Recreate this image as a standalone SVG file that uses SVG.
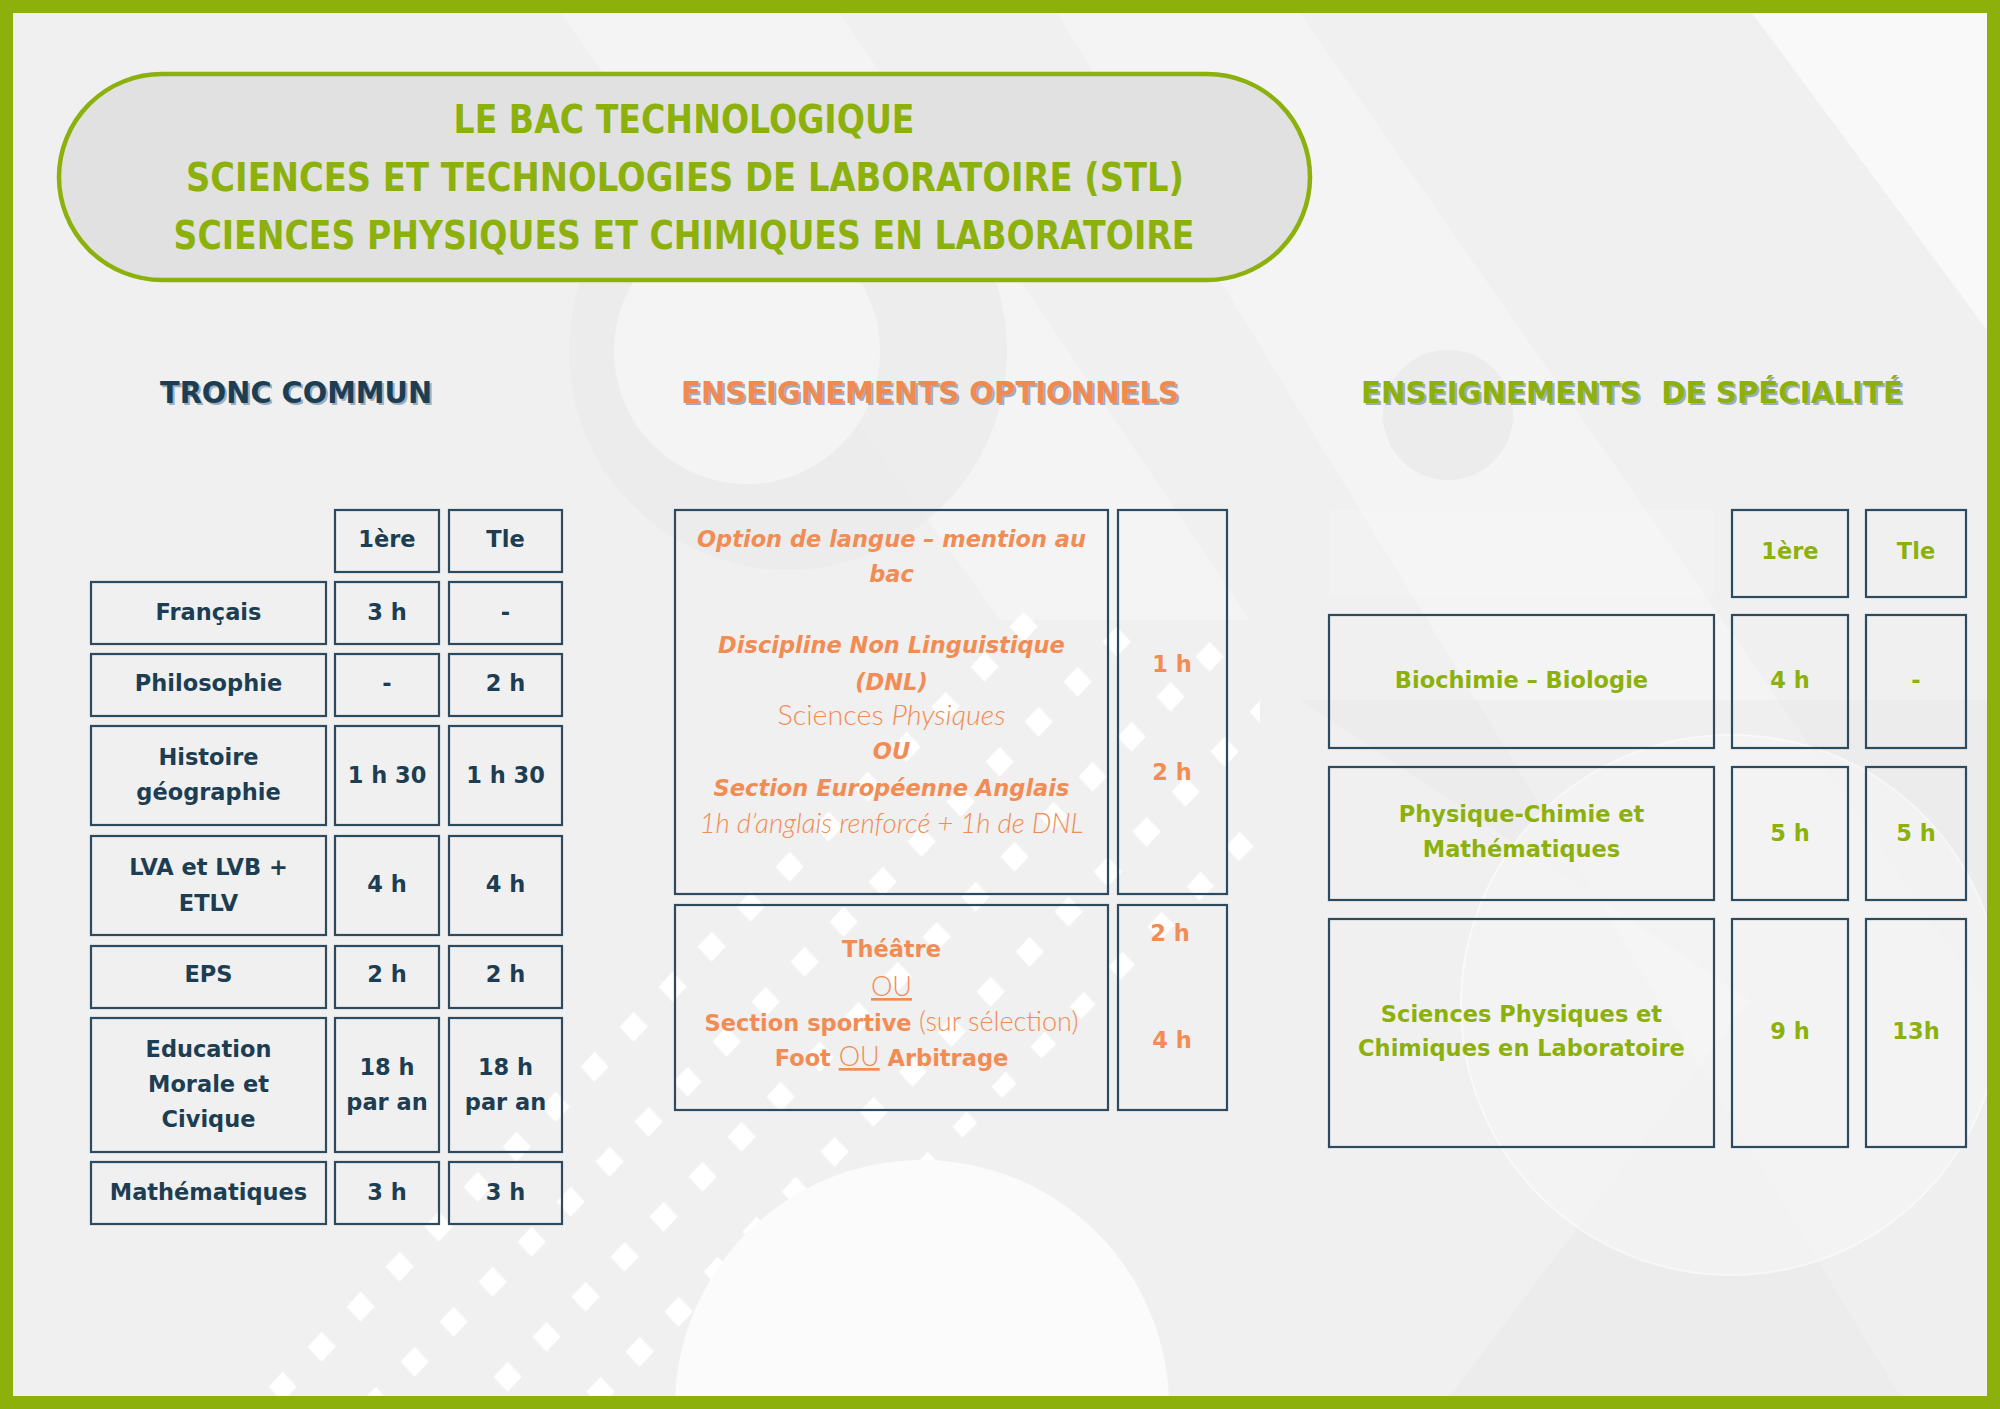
<svg xmlns="http://www.w3.org/2000/svg" width="2000" height="1409" viewBox="0 0 2000 1409">
<defs>
<style>
.cell{fill:none;stroke:#2d4a5e;stroke-width:2.2}
.t{font-family:"DejaVu Sans","Liberation Sans",sans-serif;font-weight:700;font-size:22.5px;text-anchor:middle}
.tc{fill:#1d3e52}
.sp{fill:#8db10c}
.op{fill:#f28c55}
.it{font-style:italic}
.lt{font-family:Lato,"DejaVu Sans",sans-serif;font-weight:300;font-size:27px}
.ul{text-decoration:underline}
.title{font-family:"DejaVu Sans Condensed","DejaVu Sans","Liberation Sans",sans-serif;font-weight:700;font-size:39px;fill:#8db10c;text-anchor:middle}
.head{font-family:"DejaVu Sans","Liberation Sans",sans-serif;font-weight:700;font-size:31px;text-anchor:middle}
.shadow{fill:#9cadbf}
</style>
<pattern id="dia" patternUnits="userSpaceOnUse" width="100" height="100" patternTransform="matrix(0.93 0.15 -0.39 0.40 606.7 999.2)">
<polygon points="36.41,17.6 63.01,45.12 63.59,82.4 36.99,54.88" fill="#ffffff"/>
</pattern>
<clipPath id="diaClip"><polygon points="1028,605 1260,640 1260,840 704,1396 244,1396"/></clipPath>
</defs>

<g id="background">
<rect x="0" y="0" width="2000" height="1409" fill="#f0f0f0"/>
<polygon points="1057,13 1300,13 1987,1000 1987,1396 1900,1396" fill="#ffffff" opacity="0.25"/>
<polygon points="1752,13 1987,13 1987,330" fill="#ffffff" opacity="0.6"/>
<polygon points="560,13 840,13 1250,620 1000,620" fill="#ffffff" opacity="0.25"/>
<polygon points="1300,700 1987,700 1987,1396 1450,1396 1750,1000" fill="#e6e6e6" opacity="0.35"/>
<circle cx="788" cy="351" r="219" fill="#e9e9e9" opacity="0.7"/>
<circle cx="747" cy="351" r="133" fill="#f4f4f4"/>
<circle cx="1448" cy="415" r="65" fill="#e8e8e8" opacity="0.7"/>
<circle cx="1731" cy="1005" r="270" fill="#f6f6f6" stroke="#ffffff" stroke-width="2" opacity="0.6"/>
<rect x="1329" y="510" width="385" height="87" fill="#ffffff" opacity="0.15"/>
<rect x="0" y="0" width="2000" height="1409" fill="url(#dia)" clip-path="url(#diaClip)"/>
<circle cx="922" cy="1407" r="247" fill="#fbfbfb"/>
<rect x="6.5" y="6.5" width="1987" height="1396" fill="none" stroke="#8db10a" stroke-width="13"/>
</g>

<g id="title">
<rect x="59" y="74" width="1251" height="206" rx="103" ry="103" fill="#e1e1e1" stroke="#8db10c" stroke-width="4.5"/>
<text class="title" x="684" y="133" textLength="461" lengthAdjust="spacingAndGlyphs">LE BAC TECHNOLOGIQUE</text>
<text class="title" x="685" y="191" textLength="998" lengthAdjust="spacingAndGlyphs">SCIENCES ET TECHNOLOGIES DE LABORATOIRE (STL)</text>
<text class="title" x="684" y="249" textLength="1021" lengthAdjust="spacingAndGlyphs">SCIENCES PHYSIQUES ET CHIMIQUES EN LABORATOIRE</text>
</g>

<g id="heading-tronc">
<text class="head shadow" x="298" y="405" textLength="272" lengthAdjust="spacingAndGlyphs">TRONC COMMUN</text>
<text class="head" x="296" y="403" fill="#1d3e52" textLength="272" lengthAdjust="spacingAndGlyphs">TRONC COMMUN</text>
</g>
<g id="heading-options">
<text class="head shadow" x="932" y="405" textLength="498" lengthAdjust="spacingAndGlyphs">ENSEIGNEMENTS OPTIONNELS</text>
<text class="head" x="930" y="403" fill="#f08a50" textLength="498" lengthAdjust="spacingAndGlyphs">ENSEIGNEMENTS OPTIONNELS</text>
</g>
<g id="heading-specialite">
<text class="head shadow" x="1634" y="405" textLength="542" lengthAdjust="spacingAndGlyphs" xml:space="preserve">ENSEIGNEMENTS  DE SPÉCIALITÉ</text>
<text class="head" x="1632" y="403" fill="#8db10c" textLength="542" lengthAdjust="spacingAndGlyphs" xml:space="preserve">ENSEIGNEMENTS  DE SPÉCIALITÉ</text>
</g>

<g id="tronc-commun">
<g id="tc-head-1ere"><rect class="cell" x="335" y="510" width="104" height="62"/><text class="t tc" x="387" y="547">1ère</text></g>
<g id="tc-head-tle"><rect class="cell" x="449" y="510" width="113" height="62"/><text class="t tc" x="505.5" y="547">Tle</text></g>

<g id="tc-francais">
<rect class="cell" x="91" y="582" width="235" height="62"/><text class="t tc" x="208.5" y="620">Français</text>
<rect class="cell" x="335" y="582" width="104" height="62"/><text class="t tc" x="387" y="620">3 h</text>
<rect class="cell" x="449" y="582" width="113" height="62"/><text class="t tc" x="505.5" y="620">-</text>
</g>
<g id="tc-philo">
<rect class="cell" x="91" y="654" width="235" height="62"/><text class="t tc" x="208.5" y="691">Philosophie</text>
<rect class="cell" x="335" y="654" width="104" height="62"/><text class="t tc" x="387" y="691">-</text>
<rect class="cell" x="449" y="654" width="113" height="62"/><text class="t tc" x="505.5" y="691">2 h</text>
</g>
<g id="tc-histoire">
<rect class="cell" x="91" y="726" width="235" height="99"/>
<text class="t tc" x="208.5" y="765">Histoire</text><text class="t tc" x="208.5" y="800">géographie</text>
<rect class="cell" x="335" y="726" width="104" height="99"/><text class="t tc" x="387" y="783">1 h 30</text>
<rect class="cell" x="449" y="726" width="113" height="99"/><text class="t tc" x="505.5" y="783">1 h 30</text>
</g>
<g id="tc-langues">
<rect class="cell" x="91" y="836" width="235" height="99"/>
<text class="t tc" x="208.5" y="875">LVA et LVB +</text><text class="t tc" x="208.5" y="911">ETLV</text>
<rect class="cell" x="335" y="836" width="104" height="99"/><text class="t tc" x="387" y="892">4 h</text>
<rect class="cell" x="449" y="836" width="113" height="99"/><text class="t tc" x="505.5" y="892">4 h</text>
</g>
<g id="tc-eps">
<rect class="cell" x="91" y="946" width="235" height="62"/><text class="t tc" x="208.5" y="982">EPS</text>
<rect class="cell" x="335" y="946" width="104" height="62"/><text class="t tc" x="387" y="982">2 h</text>
<rect class="cell" x="449" y="946" width="113" height="62"/><text class="t tc" x="505.5" y="982">2 h</text>
</g>
<g id="tc-emc">
<rect class="cell" x="91" y="1018" width="235" height="134"/>
<text class="t tc" x="208.5" y="1057">Education</text><text class="t tc" x="208.5" y="1092">Morale et</text><text class="t tc" x="208.5" y="1127">Civique</text>
<rect class="cell" x="335" y="1018" width="104" height="134"/>
<text class="t tc" x="387" y="1075">18 h</text><text class="t tc" x="387" y="1110">par an</text>
<rect class="cell" x="449" y="1018" width="113" height="134"/>
<text class="t tc" x="505.5" y="1075">18 h</text><text class="t tc" x="505.5" y="1110">par an</text>
</g>
<g id="tc-maths">
<rect class="cell" x="91" y="1162" width="235" height="62"/><text class="t tc" x="208.5" y="1200">Mathématiques</text>
<rect class="cell" x="335" y="1162" width="104" height="62"/><text class="t tc" x="387" y="1200">3 h</text>
<rect class="cell" x="449" y="1162" width="113" height="62"/><text class="t tc" x="505.5" y="1200">3 h</text>
</g>
</g>

<g id="options">
<g id="opt-langue">
<rect class="cell" x="675" y="510" width="433" height="384"/>
<text class="t op it" x="891.5" y="547">Option de langue – mention au</text>
<text class="t op it" x="891.5" y="582">bac</text>
<text class="t op it" x="891.5" y="653">Discipline Non Linguistique</text>
<text class="t op it" x="891.5" y="690">(DNL)</text>
<text class="t op" x="891.5" y="725" textLength="228" lengthAdjust="spacingAndGlyphs"><tspan class="lt">Sciences </tspan><tspan class="lt it">Physiques</tspan></text>
<text class="t op it" x="891.5" y="759">OU</text>
<text class="t op it" x="891.5" y="796">Section Européenne Anglais</text>
<text class="t op lt it" x="891.5" y="833" textLength="384" lengthAdjust="spacingAndGlyphs">1h d’anglais renforcé + 1h de DNL</text>
</g>
<g id="opt-langue-heures">
<rect class="cell" x="1118" y="510" width="109" height="384"/>
<text class="t op" x="1172" y="672">1 h</text>
<text class="t op" x="1172" y="780">2 h</text>
</g>
<g id="opt-theatre">
<rect class="cell" x="675" y="905" width="433" height="205"/>
<text class="t op" x="891.5" y="957">Théâtre</text>
<text class="t op" x="891.5" y="996"><tspan class="lt ul">OU</tspan></text>
<text class="t op" x="891.5" y="1031">Section sportive<tspan class="lt"> (sur sélection)</tspan></text>
<text class="t op" x="891.5" y="1066">Foot <tspan class="lt ul">OU</tspan> Arbitrage</text>
</g>
<g id="opt-theatre-heures">
<rect class="cell" x="1118" y="905" width="109" height="205"/>
<text class="t op" x="1170" y="941">2 h</text>
<text class="t op" x="1172" y="1048">4 h</text>
</g>
</g>

<g id="specialite">
<g id="sp-head-1ere"><rect class="cell" x="1732" y="510" width="116" height="87"/><text class="t sp" x="1790" y="559">1ère</text></g>
<g id="sp-head-tle"><rect class="cell" x="1866" y="510" width="100" height="87"/><text class="t sp" x="1916" y="559">Tle</text></g>
<g id="sp-biochimie">
<rect class="cell" x="1329" y="615" width="385" height="133"/><text class="t sp" x="1521.5" y="688">Biochimie – Biologie</text>
<rect class="cell" x="1732" y="615" width="116" height="133"/><text class="t sp" x="1790" y="688">4 h</text>
<rect class="cell" x="1866" y="615" width="100" height="133"/><text class="t sp" x="1916" y="688">-</text>
</g>
<g id="sp-physique-maths">
<rect class="cell" x="1329" y="767" width="385" height="133"/>
<text class="t sp" x="1521.5" y="822">Physique-Chimie et</text><text class="t sp" x="1521.5" y="857">Mathématiques</text>
<rect class="cell" x="1732" y="767" width="116" height="133"/><text class="t sp" x="1790" y="841">5 h</text>
<rect class="cell" x="1866" y="767" width="100" height="133"/><text class="t sp" x="1916" y="841">5 h</text>
</g>
<g id="sp-spcl">
<rect class="cell" x="1329" y="919" width="385" height="228"/>
<text class="t sp" x="1521.5" y="1022">Sciences Physiques et</text><text class="t sp" x="1521.5" y="1056">Chimiques en Laboratoire</text>
<rect class="cell" x="1732" y="919" width="116" height="228"/><text class="t sp" x="1790" y="1039">9 h</text>
<rect class="cell" x="1866" y="919" width="100" height="228"/><text class="t sp" x="1916" y="1039">13h</text>
</g>
</g>

<g id="connectors"></g>
</svg>
